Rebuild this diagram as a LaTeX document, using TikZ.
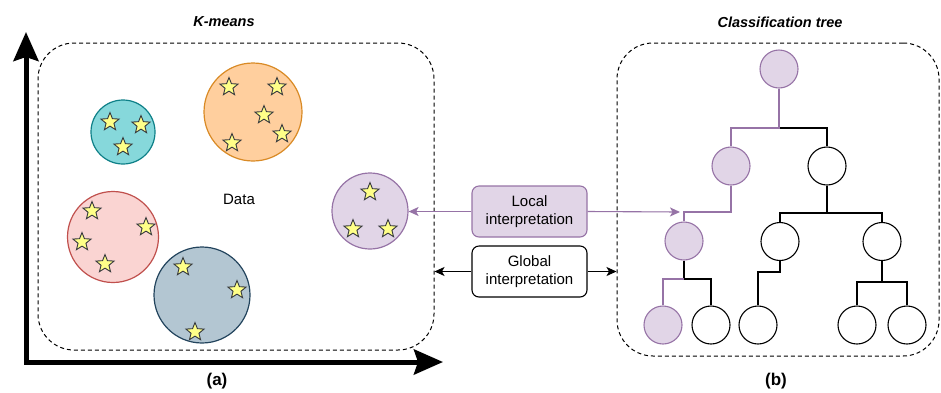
\documentclass[tikz,border=0pt]{standalone}
\usepackage{fontspec}
\setmainfont{Liberation Sans}
\usetikzlibrary{shapes.geometric,arrows.meta}
\definecolor{cyanF}{HTML}{86D8DB}
\definecolor{cyanS}{HTML}{0E8088}
\definecolor{orF}{HTML}{FFCF9E}
\definecolor{orS}{HTML}{D98A25}
\definecolor{rdF}{HTML}{FAD4D2}
\definecolor{rdS}{HTML}{C0504D}
\definecolor{blF}{HTML}{B3C6D2}
\definecolor{blS}{HTML}{23445D}
\definecolor{puF}{HTML}{E1D5E7}
\definecolor{puS}{HTML}{9673A6}
\definecolor{stF}{HTML}{FFFF88}
\definecolor{stS}{HTML}{36393D}
\tikzset{
  txt/.style={font=\fontsize{15}{18}\selectfont, align=center},
  ttl/.style={font=\fontsize{14.5}{17}\selectfont\bfseries\itshape},
  lbl/.style={font=\fontsize{17}{20}\selectfont\bfseries},
  panel/.style={draw, line width=1pt, dash pattern=on 4pt off 3pt, rounded corners=36pt, minimum width=#1, inner sep=0pt},
  clus/.style={circle, draw, line width=1.2pt, inner sep=0pt},
  starn/.style={star, star points=5, star point ratio=2.3, minimum size=19pt, inner sep=0pt, draw=stS, fill=stF, line width=0.9pt},
  tnode/.style={circle, draw, line width=1.1pt, minimum size=38pt, inner sep=0pt, fill=white},
  pnode/.style={tnode, draw=puS, fill=puF},
  bedge/.style={draw=black, line width=1.1pt},
  pedge/.style={draw=puS, line width=1.1pt},
  ibox/.style={draw, rounded corners=7pt, line width=1.1pt, minimum width=115pt, minimum height=51pt, inner sep=0pt, txt},
  axis/.style={line width=5pt, {Stealth[length=29pt,width=25pt,inset=4pt]}-{Stealth[length=29pt,width=25pt,inset=4pt]}},
  sarrow/.style={-{Stealth[length=10pt,width=9pt,inset=2.5pt]}, line width=1.1pt}
}
\begin{document}
\begin{tikzpicture}[x=1pt,y=-1pt]
\useasboundingbox (0,0) rectangle (941,392);
% titles and labels
\node[ttl] (tk) at (224,22) {K-means};
\node[ttl] (tc) at (780,22) {Classification tree};
\node[lbl] (la) at (217,381) {(a)};
\node[lbl] (lb) at (776,381) {(b)};
% axes
\coordinate (ytip) at (26,32);
\coordinate (orig) at (26,362);
\coordinate (xtip) at (443,362);
\draw[axis, line join=miter] (ytip) -- (orig) -- (xtip);
% panels
\node[panel=396pt, minimum height=307pt] (kbox) at (236,196.5) {};
\node[panel=322pt, minimum height=313pt] (tbox) at (778,199.5) {};
% clusters
\node[clus, draw=cyanS, fill=cyanF, minimum size=64pt] (cc) at (123,132) {};
\node[clus, draw=orS, fill=orF, minimum size=98pt] (co) at (253,112) {};
\node[clus, draw=rdS, fill=rdF, minimum size=91pt] (cr) at (113,237) {};
\node[clus, draw=blS, fill=blF, minimum size=96pt] (cb) at (202,295) {};
\node[clus, draw=puS, fill=puF, minimum size=76pt] (cp) at (370,211) {};
% stars
\foreach \i/\p in {1/{110,122},2/{141,125},3/{123,147},
  4/{229,87},5/{277,87},6/{264,115},7/{282,134},8/{232,143},
  9/{92,211},10/{146,227},11/{82,242},12/{105,264},
  13/{183,267},14/{237,290},15/{195,332},
  16/{370,192},17/{353,229},18/{388,229}}
  \node[starn] (s\i) at (\p) {};
\node[txt] (data) at (239,199) {Data};
% interpretation boxes
\node[ibox, draw=puS, fill=puF] (local) at (529.5,211.5) {Local\\interpretation};
\node[ibox, fill=white] (global) at (529.5,271.5) {Global\\interpretation};
\coordinate (ltip) at (680,212);
\draw[sarrow, draw=puS, fill=puS] (local.west) -- (cp.east |- local.west);
\draw[sarrow, draw=puS, fill=puS] (local.east) -- (ltip);
\draw[sarrow] (global.west) -- (kbox.east |- global.west);
\draw[sarrow] (global.east) -- (tbox.west |- global.east);
% tree
\node[pnode] (root) at (779,69) {};
\node[pnode] (l1a) at (731,166) {};
\node[tnode] (l1b) at (827,166) {};
\node[pnode] (l2a) at (684,241) {};
\node[tnode] (l2b) at (780,241.5) {};
\node[tnode] (l2c) at (882,241.5) {};
\node[pnode] (l3a) at (663,325) {};
\node[tnode] (l3b) at (711,325) {};
\node[tnode] (l3c) at (758,325) {};
\node[tnode] (l3d) at (857,325) {};
\node[tnode] (l3e) at (907,325) {};
\coordinate (j0) at (779,128);
\coordinate (j1) at (731,212);
\coordinate (j2) at (827,213);
\coordinate (j3) at (684,279);
\coordinate (j4) at (780,272);
\coordinate (j5) at (882,282);
\draw[bedge] (j0) -| (l1b.north);
\draw[pedge] (root.south) -- (j0) -| (l1a.north);
\draw[pedge] (l1a.south) -- (j1) -| (l2a.north);
\draw[bedge] (l1b.south) -- (j2) -| (l2b.north);
\draw[bedge] (j2) -| (l2c.north);
\draw[bedge] (l2a.south) -- (j3) -| (l3b.north);
\draw[pedge] (j3) -| (l3a.north);
\draw[bedge] (l2b.south) -- (j4) -| (l3c.north);
\draw[bedge] (l2c.south) -- (j5) -| (l3d.north);
\draw[bedge] (j5) -| (l3e.north);
\end{tikzpicture}
\end{document}
